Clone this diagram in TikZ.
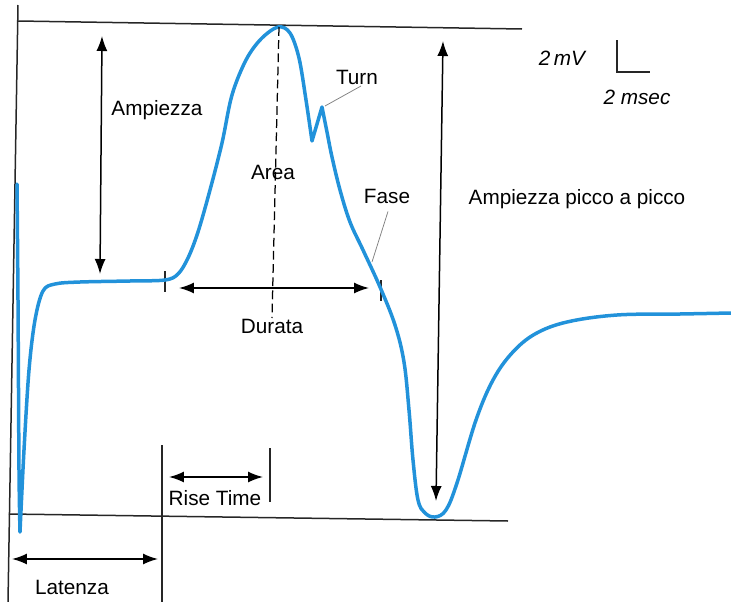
\documentclass[tikz,border=0pt]{standalone}
\usepackage{fontspec}
\setmainfont{Liberation Sans}
\usetikzlibrary{arrows.meta}
\definecolor{wavecol}{RGB}{34,146,218}
\begin{document}
\begin{tikzpicture}[x=0.02cm, y=-0.02cm, font=\fontsize{11.8}{14}\selectfont,
    wave/.style={wavecol, line width=0.07cm, line join=round, line cap=round},
    frame/.style={black!85, line width=0.03cm},
    dim/.style={{Latex[length=0.3cm,width=0.22cm]}-{Latex[length=0.3cm,width=0.22cm]}, line width=0.03cm},
    leader/.style={gray, line width=0.015cm}]
    \useasboundingbox (0,0) rectangle (731,602);
    % frame lines
    \coordinate (LT) at (18,5);
    \coordinate (LB) at (8,602);
    \coordinate (TL) at (18,21);
    \coordinate (TR) at (522,29);
    \coordinate (BL) at (9,514);
    \coordinate (BR) at (508,521);
    \coordinate (S1) at (162,445);
    \coordinate (S2) at (162,602);
    \coordinate (R1) at (270,448);
    \coordinate (R2) at (270,502);
    \draw[frame] (LT) edge (LB);
    \draw[frame] (TL) edge (TR);
    \draw[frame] (BL) edge (BR);
    \draw[frame] (S1) edge (S2);
    \draw[frame] (R1) edge (R2);
    % ticks of the duration
    \coordinate (D1a) at (165,271);
    \coordinate (D1b) at (165,292);
    \coordinate (D2a) at (381,280);
    \coordinate (D2b) at (381,301);
    \draw[frame] (D1a) edge (D1b);
    \draw[frame] (D2a) edge (D2b);
    % the potential
    \draw[wave] plot[smooth, tension=0.5] coordinates {(17,184) (18,300) (19,470) (20,532)}
      -- plot[smooth, tension=0.55] coordinates {(20,532) (24,450) (29,370) (35,320) (43,291) (55,284) (80,282) (130,281) (165,280) (178,274) (188,258) (198,232) (210,190) (222,143) (232,95) (246,60) (261,39) (278,27) (290,33) (299,58) (306,100) (312,141)}
      -- (322,107)
      -- plot[smooth, tension=0.6] coordinates {(322,107) (327,132) (332,157) (340,190) (350,222) (363,250) (380,287) (395,325) (404,362) (409,410) (413,460) (418,500) (425,513) (435,517) (446,510) (457,483) (476,420) (493,380) (512,353) (535,334) (567,322) (617,315) (680,314) (731,313)};
    % dashed peak line
    \coordinate (P1) at (279,27);
    \coordinate (P2) at (272,318);
    \draw[black, line width=0.025cm, dash pattern=on 5pt off 2.5pt] (P1) edge (P2);
    % dimension arrows
    \coordinate (A1) at (102,36);
    \coordinate (A2) at (100,274);
    \coordinate (H1) at (443,41);
    \coordinate (H2) at (436,501);
    \coordinate (U1) at (179,288);
    \coordinate (U2) at (369,288);
    \coordinate (T1) at (169,477);
    \coordinate (T2) at (263,477);
    \coordinate (L1) at (12,559);
    \coordinate (L2) at (158,559);
    \draw[dim] (A1) -- (A2);
    \draw[dim] (H1) -- (H2);
    \draw[dim] (U1) -- (U2);
    \draw[dim] (T1) -- (T2);
    \draw[dim] (L1) -- (L2);
    % labels
    \node (ampl) at (157,110) {Ampiezza};
    \node (area) at (273,172) {Area};
    \node (turn) at (357,77) {Turn};
    \node (fase) at (387,196) {Fase};
    \node (durata) at (272,326) {Durata};
    \node (picco) at (577,199) {Ampiezza picco a picco};
    \node (rise) at (215,498) {Rise Time};
    \node (lat) at (72,587) {Latenza};
    % leaders
    \coordinate (TurnPt) at (325,106);
    \coordinate (FasePt) at (372,262);
    \draw[leader] (361,86) -- (TurnPt);
    \draw[leader] (fase.south) ++(1,2) -- (FasePt);
    % scale bar
    \coordinate (K1) at (617,40);
    \coordinate (K2) at (617,72);
    \coordinate (K3) at (650,72);
    \draw[frame] (K1) -- (K2) -- (K3);
    \node[font=\fontsize{11.8}{14}\selectfont\itshape] (mv) at (562,58) {2\,mV};
    \node[font=\fontsize{11.8}{14}\selectfont\itshape] (ms) at (637,97) {2 msec};
\end{tikzpicture}
\end{document}
